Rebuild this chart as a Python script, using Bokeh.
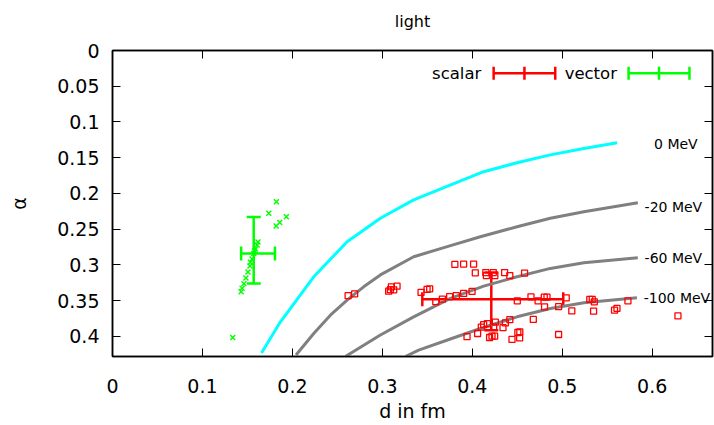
import numpy as np
from bokeh.plotting import figure
from bokeh.models import Range1d, LinearAxis, FixedTicker, Whisker, TeeHead, ColumnDataSource
from bokeh.embed import file_html
from bokeh.resources import INLINE
from bokeh.core.properties import value

# ---------------- data ----------------
xtick_vals = [0, 0.1, 0.2, 0.3, 0.4, 0.5, 0.6]
xtick_labels = ["0", "0.1", "0.2", "0.3", "0.4", "0.5", "0.6"]
ytick_vals = [0, 0.05, 0.1, 0.15, 0.2, 0.25, 0.3, 0.35, 0.4]
ytick_labels = ["0", "0.05", "0.1", "0.15", "0.2", "0.25", "0.3", "0.35", "0.4"]

curve_0_d = [0.1656, 0.1867, 0.2237, 0.2608, 0.2978, 0.3348, 0.376, 0.4126, 0.4497, 0.4867, 0.524, 0.561]
curve_0_a = [0.423, 0.3795, 0.3165, 0.2675, 0.2347, 0.209, 0.188, 0.1695, 0.157, 0.146, 0.137, 0.129]

curve_20_d = [0.204, 0.2237, 0.2422, 0.2608, 0.2792, 0.2978, 0.3348, 0.373, 0.4089, 0.4497, 0.4867, 0.524, 0.584]
curve_20_a = [0.426, 0.3958, 0.3702, 0.3492, 0.3305, 0.3139, 0.2885, 0.274, 0.2605, 0.2465, 0.2347, 0.2255, 0.2129]

curve_60_d = [0.2589, 0.2978, 0.3348, 0.3756, 0.4126, 0.4497, 0.4867, 0.524, 0.584]
curve_60_a = [0.428, 0.398, 0.3725, 0.3468, 0.3296, 0.3165, 0.3048, 0.2969, 0.2899]

curve_100_d = [0.3256, 0.3403, 0.3756, 0.4089, 0.4497, 0.4867, 0.524, 0.583]
curve_100_a = [0.428, 0.4192, 0.4035, 0.3888, 0.3725, 0.3608, 0.3529, 0.3459]

curve_labels = ["0 MeV", "-20 MeV", "-60 MeV", "-100 MeV"]

scalar_d = [0.2619, 0.2692, 0.3070, 0.3100, 0.3126, 0.3163, 0.3089, 0.3430, 0.3497, 0.3526,
            0.3594, 0.3667, 0.3748, 0.3822, 0.3903, 0.3997, 0.3806, 0.3903, 0.4014, 0.4033,
            0.4150, 0.4156, 0.4233, 0.4250, 0.4359, 0.4417, 0.4581, 0.4500, 0.4652, 0.4731,
            0.4800, 0.4830, 0.4803, 0.4959, 0.5044, 0.5106, 0.5306, 0.5333, 0.5356, 0.5348,
            0.5581, 0.5608, 0.5730, 0.6286, 0.4678, 0.4417, 0.4367, 0.4341, 0.4126, 0.4167,
            0.4237, 0.4059, 0.3941, 0.4192, 0.4219, 0.4248, 0.4441, 0.4506, 0.4528, 0.4526,
            0.4959, 0.4100, 0.4256]
scalar_a = [0.3429, 0.3403, 0.3366, 0.3305, 0.3347, 0.3296, 0.3345, 0.3384, 0.3342, 0.3333,
            0.3513, 0.3478, 0.3443, 0.3429, 0.3398, 0.3370, 0.2992, 0.2987, 0.2987, 0.3109,
            0.3106, 0.3148, 0.3106, 0.3148, 0.3106, 0.3148, 0.3113, 0.3501, 0.3445, 0.3501,
            0.3450, 0.3450, 0.3587, 0.3583, 0.3459, 0.3643, 0.3482, 0.3482, 0.3515, 0.3646,
            0.3632, 0.3608, 0.3501, 0.3711, 0.3762, 0.3765, 0.3810, 0.3877, 0.3835, 0.3821,
            0.3866, 0.3958, 0.4003, 0.4014, 0.3996, 0.3996, 0.4041, 0.3944, 0.3936, 0.4020,
            0.3972, 0.3870, 0.3800]

vector_d = [0.1822, 0.1737, 0.1933, 0.1859, 0.1819, 0.1608, 0.1589, 0.1570, 0.1552, 0.1528,
            0.1506, 0.1483, 0.1461, 0.1441, 0.1430, 0.1337, 0.1617, 0.1580, 0.1533]
vector_a = [0.2115, 0.2277, 0.2325, 0.2406, 0.2455, 0.2721, 0.2777, 0.2838, 0.2917, 0.3015,
            0.3099, 0.3183, 0.3261, 0.3324, 0.3375, 0.4014, 0.2679, 0.2805, 0.2961]

# mean values with error bars: [center, low, high]
scalar_mean_d = [0.4211, 0.3444, 0.5011]
scalar_mean_a = [0.3478, 0.3106, 0.3912]
vector_mean_d = [0.1570, 0.1430, 0.1806]
vector_mean_a = [0.2838, 0.2330, 0.3258]

title_text = "light"

# ---------------- figure ----------------
FONT = "DejaVu Sans"
RED = "#ff0000"
GREEN = "#00ff00"
CYAN = "#00ffff"
GRAY = "#808080"

p = figure(width=714, height=425, output_backend="svg", toolbar_location=None,
           x_range=Range1d(0, 0.667), y_range=Range1d(0.428, 0),
           min_border_left=112, min_border_right=2, min_border_top=50, min_border_bottom=69,
           background_fill_color="white", border_fill_color="white")
p.grid.visible = False
p.outline_line_color = "black"
p.outline_line_width = 1.5

def style_axis(ax, show_labels=True):
    ax.axis_line_color = "black"
    ax.axis_line_width = 1.5
    ax.major_tick_in = 8
    ax.major_tick_out = 0
    ax.minor_tick_in = 0
    ax.minor_tick_out = 0
    ax.major_tick_line_color = "black"
    ax.major_tick_line_width = 1
    ax.major_label_text_font = FONT
    ax.major_label_text_color = "black"
    ax.major_label_text_font_size = "19px"
    if not show_labels:
        ax.major_label_standoff = 0

xa = p.xaxis[0]
xa.ticker = FixedTicker(ticks=xtick_vals)
xa.major_label_overrides = {v: l for v, l in zip(xtick_vals, xtick_labels)}
style_axis(xa)
xa.major_label_standoff = 22
xa.axis_label = "d in fm"
xa.axis_label_text_font = FONT
xa.axis_label_text_font_size = "19px"
xa.axis_label_text_font_style = "normal"
xa.axis_label_text_color = "black"
xa.axis_label_standoff = 4

ya = p.yaxis[0]
ya.ticker = FixedTicker(ticks=ytick_vals)
ya.major_label_overrides = {v: l for v, l in zip(ytick_vals, ytick_labels)}
style_axis(ya)
ya.major_label_standoff = 13
ya.axis_label = "α"
ya.axis_label_text_font = FONT
ya.axis_label_text_font_size = "19px"
ya.axis_label_text_font_style = "normal"
ya.axis_label_text_color = "black"
ya.axis_label_standoff = 24

# mirrored top axis; it also carries the plot title (gnuplot puts it above the frame)
top = LinearAxis(ticker=FixedTicker(ticks=xtick_vals))
style_axis(top, show_labels=False)
top.major_label_overrides = {v: "" for v in xtick_vals}
top.axis_label = title_text
top.axis_label_text_font = FONT
top.axis_label_text_font_size = "16px"
top.axis_label_text_font_style = "normal"
top.axis_label_text_color = "black"
top.axis_label_standoff = 20
p.add_layout(top, "above")

right = LinearAxis(ticker=FixedTicker(ticks=ytick_vals))
style_axis(right, show_labels=False)
right.major_label_overrides = {v: "" for v in ytick_vals}
p.add_layout(right, "right")

# curves
p.line(curve_0_d, curve_0_a, line_color=CYAN, line_width=3)
p.line(curve_20_d, curve_20_a, line_color=GRAY, line_width=3)
p.line(curve_60_d, curve_60_a, line_color=GRAY, line_width=3)
p.line(curve_100_d, curve_100_a, line_color=GRAY, line_width=3)

label_x = [0.602, 0.5915, 0.5915, 0.5905]
label_y = [0.131, 0.2185, 0.290, 0.346]
p.text(x=label_x, y=label_y, text=curve_labels, text_font=value(FONT), text_font_size="14px",
       text_baseline="middle", text_align="left", text_color="black")

# data points
p.scatter(scalar_d, scalar_a, marker="square", size=6, fill_color=None, line_color=RED, line_width=1.3)
p.scatter(vector_d, vector_a, marker="x", size=7, line_color=GREEN, line_width=1.4)

def errbar(md, ma, color):
    src = ColumnDataSource(dict(x=[md[0]], y=[ma[0]], xl=[md[1]], xh=[md[2]], yl=[ma[1]], yh=[ma[2]]))
    for base, lo, hi, dim in (("x", "yl", "yh", "height"), ("y", "xl", "xh", "width")):
        p.add_layout(Whisker(source=src, base=base, lower=lo, upper=hi, dimension=dim,
                             line_color=color, line_width=2.5,
                             upper_head=TeeHead(size=14, line_color=color, line_width=2.5),
                             lower_head=TeeHead(size=14, line_color=color, line_width=2.5)))

errbar(scalar_mean_d, scalar_mean_a, RED)
errbar(vector_mean_d, vector_mean_a, GREEN)

# key (legend) drawn like gnuplot: text then error-bar sample
key_y = 0.0317
key_items = [("scalar", RED, 0.410, 0.4237, 0.4922), ("vector", GREEN, 0.5608, 0.5737, 0.6414)]
for name, color, tx, x0, x1 in key_items:
    p.text(x=[tx], y=[key_y], text=[name], text_font=value(FONT), text_font_size="16.5px",
           text_align="right", text_baseline="middle", text_color="black")
    src = ColumnDataSource(dict(y=[key_y], lo=[x0], hi=[x1]))
    p.add_layout(Whisker(source=src, base="y", lower="lo", upper="hi", dimension="width",
                         line_color=color, line_width=2.5,
                         upper_head=TeeHead(size=13, line_color=color, line_width=2.5),
                         lower_head=TeeHead(size=13, line_color=color, line_width=2.5)))
    p.scatter(x=[(x0 + x1) / 2], y=[key_y], marker="dash", angle=np.pi / 2, size=13,
              line_color=color, line_width=2.5)

open("out.html", "w").write(file_html(p, INLINE))
